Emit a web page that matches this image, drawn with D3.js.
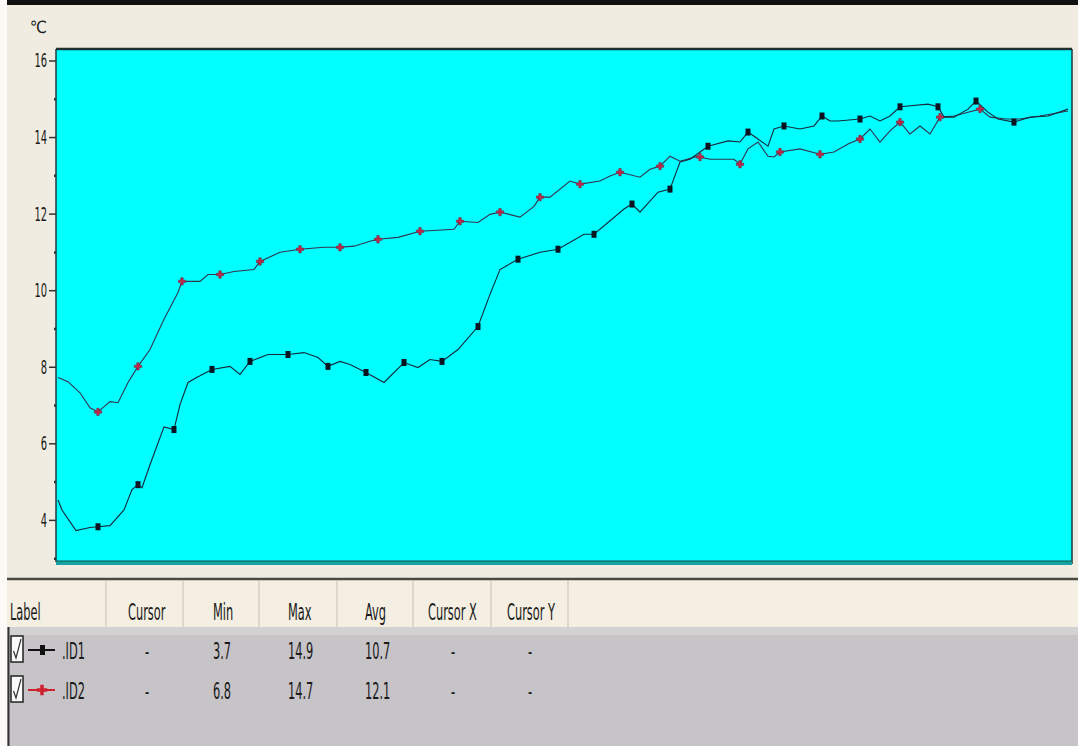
<!DOCTYPE html>
<html>
<head>
<meta charset="utf-8">
<script src="https://cdn.jsdelivr.net/npm/d3@7"></script>
<style>
  html, body { margin: 0; padding: 0; background: #fff; }
  svg { display: block; }
  text { font-family: "Liberation Sans Narrow", "DejaVu Sans Condensed", "Liberation Sans", sans-serif; fill: #1a1a1a; }
</style>
</head>
<body>
<svg id="chart" width="1078" height="746"></svg>
<script>
// temperature logger, two probes. t = sample time, v = deg C
var timeID1 = [1, 3, 10, 17, 21, 27, 34, 38, 41, 43,
  47, 54, 59, 62, 66, 71, 78, 87, 92, 97,
  106, 116, 124, 131, 136, 142, 147, 155, 164, 174,
  181, 187, 193, 201, 211, 217, 222, 231, 242, 251,
  264, 269, 284, 288, 292, 301, 307, 312, 317, 326,
  336, 342, 346, 351, 356, 359, 364, 372, 379, 383,
  387, 391, 402, 407, 412, 417, 422, 436, 441, 444,
  449, 456, 460, 466, 471, 479, 487, 496, 506];
var valueID1 = [4.52, 4.26, 3.72, 3.80, 3.82, 3.85, 4.26, 4.79, 4.92, 4.84,
  5.44, 6.43, 6.36, 7.01, 7.59, 7.74, 7.93, 8.01, 7.80, 8.14,
  8.32, 8.32, 8.37, 8.24, 8.01, 8.14, 8.06, 7.85, 7.59, 8.11,
  7.98, 8.19, 8.14, 8.45, 9.05, 9.89, 10.54, 10.81, 10.99, 11.07,
  11.46, 11.46, 12.12, 12.25, 12.04, 12.56, 12.64, 13.35, 13.42, 13.76,
  13.90, 13.87, 14.13, 13.95, 13.76, 14.21, 14.29, 14.21, 14.29, 14.55,
  14.42, 14.42, 14.47, 14.55, 14.42, 14.55, 14.79, 14.86, 14.79, 14.52,
  14.52, 14.73, 14.94, 14.65, 14.47, 14.39, 14.52, 14.55, 14.73];
var markID1 = [21, 41, 59, 78, 97, 116, 136, 155, 174, 193, 211, 231, 251, 269,
  288, 307, 326, 346, 364, 383, 402, 422, 441, 460, 479];

var timeID2 = [1, 6, 12, 17, 21, 27, 31, 36, 41, 47,
  54, 61, 63, 72, 76, 82, 89, 99, 102, 112,
  122, 134, 142, 149, 157, 161, 171, 182, 199, 202,
  211, 217, 222, 232, 239, 242, 247, 257, 262, 272,
  277, 282, 292, 297, 302, 307, 312, 321, 322, 327,
  339, 342, 346, 351, 356, 359, 362, 372, 382, 389,
  396, 402, 407, 412, 417, 422, 427, 432, 437, 442,
  449, 456, 462, 467, 475, 482, 492, 506];
var valueID2 = [7.72, 7.61, 7.32, 6.93, 6.82, 7.09, 7.06, 7.59, 8.01, 8.45,
  9.24, 9.94, 10.23, 10.23, 10.41, 10.41, 10.49, 10.54, 10.75, 10.99,
  11.07, 11.12, 11.12, 11.15, 11.28, 11.33, 11.38, 11.54, 11.59, 11.80,
  11.77, 11.98, 12.04, 11.91, 12.19, 12.43, 12.43, 12.85, 12.77, 12.85,
  12.98, 13.08, 12.95, 13.16, 13.24, 13.50, 13.37, 13.50, 13.48, 13.42,
  13.42, 13.29, 13.69, 13.87, 13.50, 13.48, 13.61, 13.69, 13.55, 13.61,
  13.82, 13.95, 14.21, 13.87, 14.16, 14.39, 14.08, 14.29, 14.08, 14.52,
  14.55, 14.65, 14.73, 14.52, 14.47, 14.47, 14.55, 14.68];
var markID2 = [21, 41, 63, 82, 102, 122, 142, 161, 182, 202, 222, 242, 262, 282,
  302, 322, 342, 362, 382, 402, 422, 442, 462];

var yTicks = [4, 6, 8, 10, 12, 14, 16];
var yMinor = [3, 5, 7, 9, 11, 13, 15];

var columns = ["Label", "Cursor", "Min", "Max", "Avg", "Cursor X", "Cursor Y"];
var seriesNames = [".ID1", ".ID2"];
var cursorVals = ["-", "-"];
var minVals = ["3.7", "6.8"];
var maxVals = ["14.9", "14.7"];
var avgVals = ["10.7", "12.1"];
var cursorXVals = ["-", "-"];
var cursorYVals = ["-", "-"];

var svg = d3.select('#chart');
var W = 1078, H = 746;
var plot = {left: 56, top: 49, right: 1072, bottom: 562};

// window background
svg.append('rect').attr('width', W).attr('height', H).attr('fill', '#f0ece1');
svg.append('rect').attr('x', 0).attr('y', 0).attr('width', 7).attr('height', H).attr('fill', '#fbfaf7');
svg.append('rect').attr('x', 7).attr('y', 0).attr('width', W - 7).attr('height', 5).attr('fill', '#111');

var x = d3.scaleLinear().domain([0, 508]).range([plot.left, plot.right]);
var y = d3.scaleLinear().domain([2.9, 16.3]).range([plot.bottom, plot.top]);

// plot area
svg.append('rect')
  .attr('x', plot.left).attr('y', plot.top)
  .attr('width', plot.right - plot.left).attr('height', plot.bottom - plot.top)
  .attr('fill', '#00ffff');
svg.append('line').attr('x1', plot.left).attr('x2', plot.right).attr('y1', plot.top).attr('y2', plot.top)
  .attr('stroke', '#1d3333').attr('stroke-width', 2.5);
svg.append('line').attr('x1', plot.left).attr('x2', plot.left).attr('y1', plot.top).attr('y2', plot.bottom)
  .attr('stroke', '#1d3a3a').attr('stroke-width', 1.5);
svg.append('line').attr('x1', plot.right).attr('x2', plot.right).attr('y1', plot.top).attr('y2', plot.bottom + 2)
  .attr('stroke', '#1d3a3a').attr('stroke-width', 1.5);
svg.append('line').attr('x1', plot.left).attr('x2', plot.right).attr('y1', plot.bottom + 1).attr('y2', plot.bottom + 1)
  .attr('stroke', '#16a3a3').attr('stroke-width', 4);
svg.append('line').attr('x1', plot.left).attr('x2', plot.right).attr('y1', plot.bottom - 1).attr('y2', plot.bottom - 1)
  .attr('stroke', '#1b4f4f').attr('stroke-width', 1);

// y axis, labelled every 2, minor marks between
var yAxis = d3.axisLeft(y).tickValues(yTicks).tickSize(7).tickPadding(2).tickFormat(d3.format('d'));
var gy = svg.append('g').attr('transform', 'translate(' + plot.left + ',0)').call(yAxis);
gy.select('.domain').remove();
gy.selectAll('line').attr('stroke', '#333').attr('stroke-width', 1.5);
gy.selectAll('text')
  .attr('font-family', '"Liberation Sans Narrow", "DejaVu Sans Condensed", sans-serif')
  .attr('font-size', 20).attr('fill', '#222')
  .attr('x', -9 / 0.55).attr('transform', 'scale(0.55,1)');

var gm = svg.append('g').attr('transform', 'translate(' + plot.left + ',0)')
  .call(d3.axisLeft(y).tickValues(yMinor).tickSize(2).tickFormat(''));
gm.select('.domain').remove();
gm.selectAll('line').attr('stroke', '#333').attr('stroke-width', 2.5);

svg.append('text').attr('x', 30).attr('y', 33).attr('font-size', 17)
  .attr('font-family', '"DejaVu Sans", sans-serif').attr('fill', '#333').text('℃');

// series
function zipSeries(ts, vs) {
  return ts.map(function(t, i) { return {t: t, v: vs[i]}; });
}
var dataID1 = zipSeries(timeID1, valueID1);
var dataID2 = zipSeries(timeID2, valueID2);

var line = d3.line().x(function(d) { return x(d.t); }).y(function(d) { return y(d.v); });

svg.append('clipPath').attr('id', 'plotclip').append('rect')
  .attr('x', plot.left + 1).attr('y', plot.top + 1)
  .attr('width', plot.right - plot.left - 2).attr('height', plot.bottom - plot.top - 3);
var gp = svg.append('g').attr('clip-path', 'url(#plotclip)');

gp.append('path').datum(dataID2).attr('d', line)
  .attr('fill', 'none').attr('stroke', '#34344e').attr('stroke-width', 1.1);
gp.append('path').datum(dataID1).attr('d', line)
  .attr('fill', 'none').attr('stroke', '#16283a').attr('stroke-width', 1.1);

gp.selectAll('.m2').data(dataID2.filter(function(d) { return markID2.indexOf(d.t) >= 0; }))
  .enter().append('path').attr('class', 'm2')
  .attr('transform', function(d) { return 'translate(' + x(d.t) + ',' + y(d.v) + ')'; })
  .attr('d', d3.symbol().type(d3.symbolCross).size(30))
  .attr('fill', '#c02848').attr('stroke', '#702040').attr('stroke-width', 0.5);

gp.selectAll('.m1').data(dataID1.filter(function(d) { return markID1.indexOf(d.t) >= 0; }))
  .enter().append('rect').attr('class', 'm1')
  .attr('x', function(d) { return x(d.t) - 2.5; })
  .attr('y', function(d) { return y(d.v) - 3.5; })
  .attr('width', 5).attr('height', 7)
  .attr('fill', '#0a1420');

// stats table under the plot
var tableTop = 578, headH = 49;
svg.append('rect').attr('x', 7).attr('y', tableTop).attr('width', W - 7).attr('height', headH)
  .attr('fill', '#f4efe2');
svg.append('line').attr('x1', 7).attr('x2', W).attr('y1', tableTop + 1).attr('y2', tableTop + 1)
  .attr('stroke', '#4a4a44').attr('stroke-width', 2.5);
svg.append('rect').attr('x', 7).attr('y', tableTop + headH).attr('width', W - 7).attr('height', H - tableTop - headH)
  .attr('fill', '#c6c4c7');
svg.append('rect').attr('x', 7).attr('y', tableTop + headH).attr('width', W - 7).attr('height', 8)
  .attr('fill', '#d3d1d2');
svg.append('line').attr('x1', 8.5).attr('x2', 8.5).attr('y1', tableTop + headH).attr('y2', H)
  .attr('stroke', '#333').attr('stroke-width', 2);

var colEdges = [7, 106, 183, 259, 337, 413, 491, 568];
colEdges.slice(1).forEach(function(cx) {
  svg.append('line').attr('x1', cx).attr('x2', cx).attr('y1', tableTop + 3).attr('y2', tableTop + headH)
    .attr('stroke', '#d6d1c4').attr('stroke-width', 1.5);
});

function ntext(px, py, s, anchor, col) {
  return svg.append('text')
    .attr('transform', 'translate(' + px + ',' + py + ') scale(0.55,1)')
    .attr('text-anchor', anchor || 'start')
    .attr('font-size', 23)
    .attr('fill', col || '#1a1a1a')
    .text(s);
}

var headX = [10, 128, 213, 288, 365, 428, 507];
columns.forEach(function(c, i) { ntext(headX[i], 620, c); });

var rowY = [659, 699];
var lineColor = ['#111', '#d0202e'];
seriesNames.forEach(function(name, i) {
  var ry = rowY[i];
  // checkbox
  svg.append('rect').attr('x', 11).attr('y', ry - 23).attr('width', 12).attr('height', 26)
    .attr('fill', '#fafafa').attr('stroke', '#222').attr('stroke-width', 1.5);
  svg.append('path').attr('d', 'M13.5,' + (ry - 8) + ' L16,' + (ry - 1) + ' L21,' + (ry - 20))
    .attr('fill', 'none').attr('stroke', '#333').attr('stroke-width', 1.2);
  // legend swatch
  svg.append('line').attr('x1', 28).attr('x2', 55).attr('y1', ry - 9).attr('y2', ry - 9)
    .attr('stroke', lineColor[i]).attr('stroke-width', 2);
  if (i === 0) {
    svg.append('rect').attr('x', 40).attr('y', ry - 14).attr('width', 5).attr('height', 10).attr('fill', '#111');
  } else {
    svg.append('path').attr('transform', 'translate(42,' + (ry - 9) + ')')
      .attr('d', d3.symbol().type(d3.symbolCross).size(60)).attr('fill', '#d0202e');
  }
  ntext(62, ry, name);
  ntext(147, ry, cursorVals[i], 'middle');
  ntext(213, ry, minVals[i]);
  ntext(288, ry, maxVals[i]);
  ntext(365, ry, avgVals[i]);
  ntext(453, ry, cursorXVals[i], 'middle');
  ntext(530, ry, cursorYVals[i], 'middle');
});
</script>
</body>
</html>
